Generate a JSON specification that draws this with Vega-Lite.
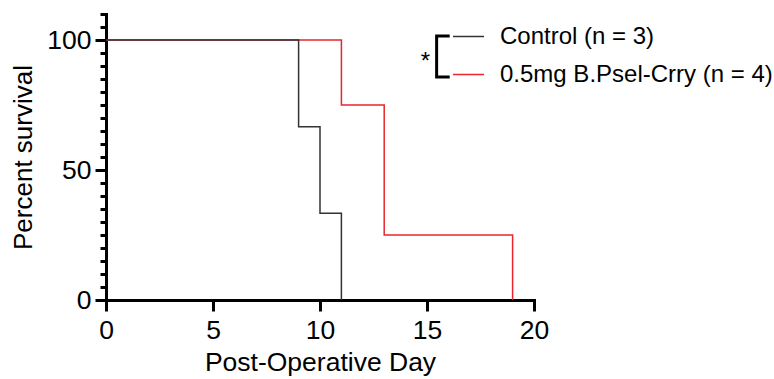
{
  "$schema": "https://vega.github.io/schema/vega-lite/v6.json",
  "width": 428,
  "height": 286,
  "autosize": "none",
  "padding": {"left": 106, "top": 14, "right": 240, "bottom": 79},
  "background": "white",
  "config": {
    "view": {"stroke": null},
    "font": "Liberation Sans",
    "axis": {"grid": false}
  },
  "datasets": {
    "survival": [
      {"day": 0, "survival": 100, "group": "0.5mg B.Psel-Crry (n = 4)"},
      {"day": 11, "survival": 75, "group": "0.5mg B.Psel-Crry (n = 4)"},
      {"day": 13, "survival": 25, "group": "0.5mg B.Psel-Crry (n = 4)"},
      {"day": 19, "survival": 0, "group": "0.5mg B.Psel-Crry (n = 4)"},
      {"day": 0, "survival": 100, "group": "Control (n = 3)"},
      {"day": 9, "survival": 66.67, "group": "Control (n = 3)"},
      {"day": 10, "survival": 33.33, "group": "Control (n = 3)"},
      {"day": 11, "survival": 0, "group": "Control (n = 3)"}
    ],
    "bracket": [
      {"day": 16.06, "survival": 101.5, "step": 1},
      {"day": 15.45, "survival": 101.5, "step": 2},
      {"day": 15.45, "survival": 85.8, "step": 3},
      {"day": 16.06, "survival": 85.8, "step": 4}
    ],
    "significance": [
      {"day": 14.93, "survival": 88.7, "label": "*"}
    ]
  },
  "layer": [
    {
      "data": {"name": "survival"},
      "mark": {"type": "line", "interpolate": "step-after", "strokeWidth": 1.5},
      "encoding": {
        "x": {
          "field": "day", "type": "quantitative",
          "scale": {"domain": [0, 20], "nice": false, "zero": false},
          "axis": {
            "values": [0, 5, 10, 15, 20],
            "title": "Post-Operative Day",
            "titleFontSize": 26.5, "titleFontWeight": "normal", "titleColor": "black", "titlePadding": 6,
            "labelFontSize": 26.5, "labelColor": "black", "labelPadding": 6, "labelFlush": false,
            "tickSize": 11, "tickWidth": 3, "tickColor": "black",
            "domainColor": "black", "domainWidth": 3, "domainCap": "square"
          }
        },
        "y": {
          "field": "survival", "type": "quantitative",
          "scale": {"domain": [0, 110], "nice": false},
          "axis": {
            "orient": "left",
            "values": [0, 50, 100],
            "title": "Percent survival",
            "titleFontSize": 26, "titleFontWeight": "normal", "titleColor": "black", "titlePadding": 10,
            "labelFontSize": 26.5, "labelColor": "black", "labelPadding": 4, "labelFlush": false,
            "tickSize": 11, "tickWidth": 3, "tickColor": "black",
            "domainColor": "black", "domainWidth": 3, "domainCap": "square"
          }
        },
        "color": {
          "field": "group", "type": "nominal",
          "scale": {
            "domain": ["Control (n = 3)", "0.5mg B.Psel-Crry (n = 4)"],
            "range": ["#333333", "#e8262b"]
          },
          "legend": {
            "orient": "none", "legendX": 346, "legendY": 6,
            "title": null, "padding": 0,
            "symbolType": "stroke", "symbolSize": 961, "symbolStrokeWidth": 1.5,
            "labelFontSize": 24, "labelColor": "black", "labelOffset": 15, "labelLimit": 400,
            "rowPadding": 9
          }
        }
      }
    },
    {
      "data": {"name": "bracket"},
      "mark": {"type": "line", "color": "black", "strokeWidth": 3, "strokeCap": "butt", "strokeJoin": "miter"},
      "encoding": {
        "x": {"field": "day", "type": "quantitative"},
        "y": {
          "field": "survival", "type": "quantitative",
          "axis": {
            "orient": "left",
            "values": [0, 5, 10, 15, 20, 25, 30, 35, 40, 45, 50, 55, 60, 65, 70, 75, 80, 85, 90, 95, 100, 105, 110],
            "title": null, "labels": false, "domain": false,
            "tickSize": 6, "tickWidth": 3, "tickColor": "black"
          }
        },
        "order": {"field": "step", "type": "quantitative"}
      }
    },
    {
      "data": {"name": "significance"},
      "mark": {"type": "text", "fontSize": 24, "color": "black", "baseline": "alphabetic", "align": "center"},
      "encoding": {
        "x": {"field": "day", "type": "quantitative"},
        "y": {"field": "survival", "type": "quantitative", "axis": null},
        "text": {"field": "label"}
      }
    }
  ],
  "resolve": {"axis": {"y": "independent"}}
}
